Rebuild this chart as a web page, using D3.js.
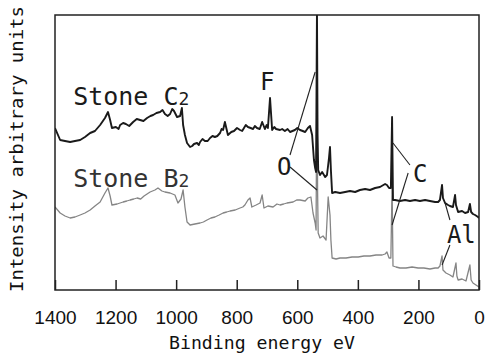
<!DOCTYPE html>
<html>
<head>
<meta charset="utf-8">
<script src="https://cdn.jsdelivr.net/npm/d3@7/dist/d3.min.js"></script>
<style>
  body { margin: 0; background: #fff; }
  svg { display: block; }
</style>
</head>
<body>
<div id="chart"></div>
<script>
// Spectrum of Stone C2 (upper, black)
var c2Energy = [1400, 1383, 1367, 1350, 1334, 1317, 1301, 1284, 1268, 1251, 1235, 1225, 1218, 1212, 1199, 1190,
    1185, 1175, 1166, 1155, 1142, 1130, 1119, 1108, 1096, 1085, 1076, 1065, 1053, 1045, 1037, 1028, 1020, 1013,
    1007, 997, 987, 981, 977, 971, 964, 954, 947, 941, 931, 925, 921, 913, 905, 896, 888, 880, 872, 864, 855, 850,
    845, 839, 829, 818, 809, 799, 789, 782, 776, 770, 763, 754, 746, 740, 733, 724, 716, 707, 701, 697, 690, 683,
    676, 670, 657, 650, 641, 632, 624, 616, 608, 600, 591, 582, 574, 565, 558, 551, 545, 541, 538, 535, 533, 531,
    525, 518, 508, 502, 498, 495, 492, 489, 485, 475, 459, 442, 426, 409, 393, 376, 360, 343, 327, 310, 304, 297,
    291, 287, 284, 277, 261, 244, 228, 211, 195, 178, 162, 145, 135, 129, 122, 119, 112, 102, 96, 86, 79, 76, 69,
    56, 46, 36, 30, 26, 20, 13, 3, 0];
var c2Intensity = [64.8, 60, 59.6, 59.2, 59.6, 60, 61.2, 62.8, 63.6, 66, 68.8, 71.2, 68, 64.8, 65.2, 64.4,
    66, 66.8, 66.4, 65.6, 67.2, 68.4, 68, 67.6, 68.8, 69.6, 70, 70.8, 71.2, 72, 70.4, 69.6, 70.4, 72.4,
    71.6, 69.2, 69.6, 72.8, 66, 62, 58.8, 57.2, 57.6, 58.4, 58.8, 58, 59.2, 60.4, 59.6, 59.6, 60.8, 61.6, 61.2, 61.6, 62.8, 64.4,
    64, 67.2, 62, 63.2, 63.6, 64.8, 64, 63.6, 64.8, 66, 65.2, 64.8, 64.4, 65.6, 64.8, 64.4, 67.2, 64.4, 66, 64.8, 76.8, 64,
    65.2, 64.4, 64, 64.4, 63.6, 64.4, 63.2, 63.6, 64, 64.8, 64, 63.6, 63.2, 64.8, 65.6, 62, 52, 48.8, 47.2, 112, 62, 48,
    46, 47.2, 45.2, 46, 50, 53.2, 57.2, 48, 38.8, 39.2, 38.8, 39.2, 39.6, 39.2, 40, 40.4, 40, 40.8, 41.2, 42.4, 42, 40.8,
    40.8, 69.2, 36, 36, 35.6, 36, 35.6, 36, 35.6, 36, 35.6, 35.2, 35.2, 36, 42, 36.8, 34.8, 34, 33.6, 33.2, 38, 34, 31.2,
    31.6, 30.8, 31.2, 34.4, 31.2, 30.4, 30, 29.2, 28.8];

// Spectrum of Stone B2 (lower, gray)
var b2Energy = [1400, 1383, 1367, 1350, 1334, 1317, 1301, 1284, 1268, 1251, 1235, 1225, 1218, 1212, 1195, 1185,
    1175, 1163, 1152, 1140, 1129, 1117, 1106, 1096, 1086, 1078, 1070, 1060, 1047, 1037, 1020, 1004, 994, 984, 977,
    971, 964, 954, 938, 921, 910, 898, 885, 872, 858, 845, 833, 822, 805, 789, 780, 773, 763, 756, 750, 736, 723,
    716, 710, 697, 680, 667, 657, 645, 634, 614, 602, 591, 574, 565, 555, 548, 541, 538, 535, 533, 531, 525, 515,
    505, 498, 492, 489, 485, 472, 459, 439, 419, 399, 380, 360, 340, 320, 310, 304, 297, 291, 287, 284, 274, 261,
    241, 221, 201, 182, 162, 145, 135, 129, 122, 119, 109, 96, 86, 76, 73, 69, 56, 43, 30, 26, 20, 10, 0];
var b2Intensity = [33.2, 30.8, 29.6, 28.8, 29.2, 30, 30.8, 32, 33.6, 35.2, 38.8, 40.8, 37.6, 34, 34.4, 34.8,
    35.2, 35.6, 36, 36.4, 36.8, 36.4, 37.6, 38.4, 39.2, 39.6, 40, 40.8, 39.6, 39.2, 38.8, 38, 34.8, 36.4, 40,
    33.2, 27.2, 26, 26.4, 26.8, 27.2, 28, 28.8, 29.2, 30, 30.8, 31.2, 31.6, 32, 32.8, 33.2, 34, 36, 36.8, 33.2, 34, 34.8,
    38, 32.8, 33.6, 33.2, 34.4, 34, 34.4, 34.8, 35.2, 36, 36, 35.6, 36.8, 37.2, 30.8, 26.8, 24, 90, 40, 22.8, 20.8, 21.6,
    20, 37.2, 30, 20, 12.8, 12.4, 12.8, 12.8, 13.2, 13.2, 13.6, 13.6, 14, 14, 14.4, 15.2, 12.8, 12.8, 42, 9.6, 9.2, 8.8,
    8.8, 9.2, 8.8, 8.8, 8.4, 8.8, 8.8, 9.6, 13.6, 8, 6.8, 6, 5.2, 10.8, 5.6, 4, 4.4, 3.6, 10, 4, 2.8, 2, 1.2];

var tickValues = [1400, 1200, 1000, 800, 600, 400, 200, 0];

// peak labels: text, energy, intensity (baseline-left)
var labelText = ["F", "O", "C", "Al"];
var labelEnergy = [723, 667, 218, 106];
var labelIntensity = [80, 46, 43.2, 18.8];

// leader lines: [energy1, intensity1, energy2, intensity2]
var leaders = [
    [624, 54, 541, 87.2],
    [624, 49.2, 535, 40],
    [228, 50, 284, 58.8],
    [234, 46.8, 287, 26],
    [112, 34.8, 96, 28],
    [96, 18, 122, 10]
];

var W = 485, H = 362;
var margin = {top: 15, right: 6, bottom: 72, left: 55};
var w = W - margin.left - margin.right;
var h = H - margin.top - margin.bottom;

var svg = d3.select("#chart").append("svg")
    .attr("width", W)
    .attr("height", H);

var g = svg.append("g")
    .attr("transform", "translate(" + margin.left + "," + margin.top + ")");

var x = d3.scaleLinear().domain([1400, 0]).range([0, w]);
var y = d3.scaleLinear().domain([0, 110]).range([h, 0]);

g.append("clipPath").attr("id", "plot")
    .append("rect").attr("width", w).attr("height", h);

var line = d3.line()
    .x(function(d) { return x(d[0]); })
    .y(function(d) { return y(d[1]); });

var c2 = d3.zip(c2Energy, c2Intensity);
var b2 = d3.zip(b2Energy, b2Intensity);

g.append("path")
    .datum(b2)
    .attr("clip-path", "url(#plot)")
    .attr("d", line)
    .attr("fill", "none")
    .attr("stroke", "#858585")
    .attr("stroke-width", 1.3)
    .attr("stroke-linejoin", "round");

g.append("path")
    .datum(c2)
    .attr("clip-path", "url(#plot)")
    .attr("d", line)
    .attr("fill", "none")
    .attr("stroke", "#1a1a1a")
    .attr("stroke-width", 1.9)
    .attr("stroke-linejoin", "round");

// axis with inward ticks
var xAxis = d3.axisBottom(x)
    .tickValues(tickValues)
    .tickFormat(d3.format("d"))
    .tickSize(-10)
    .tickPadding(21);

var ax = g.append("g")
    .attr("transform", "translate(0," + h + ")")
    .call(xAxis);
ax.select(".domain").remove();
ax.selectAll("line").attr("stroke", "#222").attr("stroke-width", 1.5);
ax.selectAll("text")
    .attr("fill", "#111")
    .style("font-family", "'Liberation Sans', Arial, sans-serif")
    .style("font-size", "19px");

// frame
g.append("rect")
    .attr("width", w)
    .attr("height", h)
    .attr("fill", "none")
    .attr("stroke", "#222")
    .attr("stroke-width", 1.5);

// leader lines
g.selectAll(".leader")
    .data(leaders)
    .enter()
    .append("line")
    .attr("class", "leader")
    .attr("x1", function(d) { return x(d[0]); })
    .attr("y1", function(d) { return y(d[1]); })
    .attr("x2", function(d) { return x(d[2]); })
    .attr("y2", function(d) { return y(d[3]); })
    .attr("stroke", "#222")
    .attr("stroke-width", 1.1);

var mono = "'DejaVu Sans Mono', 'Liberation Mono', monospace";

g.selectAll(".peak")
    .data(labelText)
    .enter()
    .append("text")
    .attr("class", "peak")
    .attr("x", function(d, i) { return x(labelEnergy[i]); })
    .attr("y", function(d, i) { return y(labelIntensity[i]); })
    .text(function(d) { return d; })
    .attr("fill", "#1a1a1a")
    .style("font-family", mono)
    .style("font-size", "24px");

// sample names
var names = [["Stone C", "2", 74, "#1a1a1a"], ["Stone B", "2", 41.2, "#333"]];
names.forEach(function(n) {
    var t = g.append("text")
        .attr("x", x(1340))
        .attr("y", y(n[2]))
        .attr("fill", n[3])
        .style("font-family", mono)
        .style("font-size", "25px");
    t.append("tspan").text(n[0]);
    t.append("tspan").text(n[1]).style("font-size", "18px");
});

// axis titles
svg.append("text")
    .attr("x", 262)
    .attr("y", 349)
    .attr("text-anchor", "middle")
    .attr("textLength", 186)
    .attr("lengthAdjust", "spacingAndGlyphs")
    .text("Binding energy eV")
    .attr("fill", "#111")
    .style("font-family", mono)
    .style("font-size", "17px");

svg.append("text")
    .attr("transform", "translate(23,149) rotate(-90)")
    .attr("text-anchor", "middle")
    .attr("textLength", 286)
    .attr("lengthAdjust", "spacingAndGlyphs")
    .text("Intensity arbitrary units")
    .attr("fill", "#111")
    .style("font-family", mono)
    .style("font-size", "17px");
</script>
</body>
</html>
